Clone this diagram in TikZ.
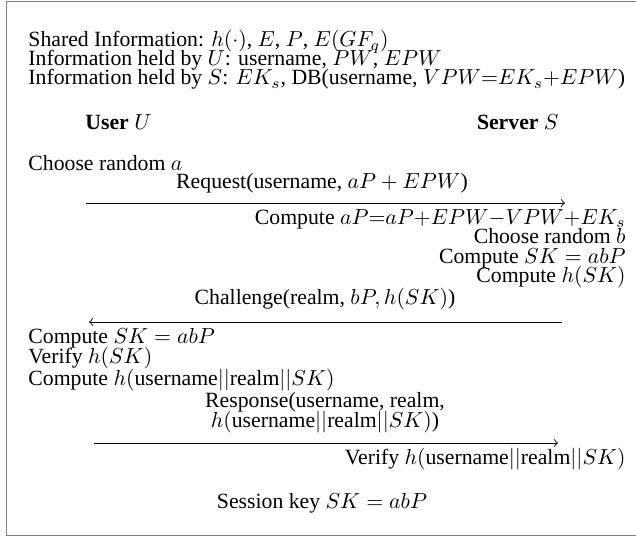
\documentclass[tikz,border=0pt]{standalone}
\usepackage{fontspec}
\setmainfont{Liberation Serif}
\begin{document}
\begin{tikzpicture}[x=0.46pt,y=-0.46pt,
  lt/.style={anchor=base west,inner sep=0pt},
  rt/.style={anchor=base east,inner sep=0pt},
  ct/.style={anchor=base,inner sep=0pt},
  msg/.style={->,line width=0.4pt},
  frame/.style={draw=black!50,line width=0.7pt}]
\useasboundingbox (0,0) rectangle (636,537);
\begin{scope}
\clip (0,0) rectangle (636,537);
\draw[frame] (6.5,1.5) rectangle (645,535.5);
\end{scope}
% header
\node[lt] (i1) at (28,47) {Shared Information: $h(\cdot)$, $E$, $P$, $E(GF_q)$};
\node[lt] (i2) at (28,66) {Information held by $U$: username, $PW$, $EPW$};
\node[lt] (i3) at (28,85) {Information held by $S$: $EK_s$, DB(username, $VPW{=}EK_s{+}EPW$)};
\node[lt] (user) at (85,130) {\textbf{User} $U$};
\node[rt] (server) at (559,130) {\textbf{Server} $S$};
% step 1
\node[lt] (ca) at (28,170) {Choose random $a$};
\node[ct] (req) at (322,188) {Request(username, $aP + EPW$)};
\coordinate (r1s) at (86,203);
\coordinate (r1e) at (565,203);
\draw[msg] (r1s) -- (r1e);
\node[rt] (s1) at (626,224) {Compute $aP{=}aP{+}EPW{-}VPW{+}EK_s$};
\node[rt] (s2) at (626,243) {Choose random $b$};
\node[rt] (s3) at (626,263) {Compute $SK = abP$};
\node[rt] (s4) at (626,282) {Compute $h(SK)$};
% step 2
\node[ct] (chal) at (325,304) {Challenge(realm, $bP, h(SK)$)};
\coordinate (r2s) at (562,322);
\coordinate (r2e) at (89,322);
\draw[msg] (r2s) -- (r2e);
\node[lt] (u1) at (28,343) {Compute $SK = abP$};
\node[lt] (u2) at (28,363) {Verify $h(SK)$};
\node[lt] (u3) at (28,385) {Compute $h(\mbox{username}||\mbox{realm}||SK)$};
% step 3
\node[ct] (resp1) at (325,407) {Response(username, realm,};
\node[ct] (resp2) at (325,427) {$h(\mbox{username}||\mbox{realm}||SK)$)};
\coordinate (r3s) at (94,443);
\coordinate (r3e) at (558,443);
\draw[msg] (r3s) -- (r3e);
\node[rt] (s5) at (626,464) {Verify $h(\mbox{username}||\mbox{realm}||SK)$};
\node[ct] (sk) at (322,508) {Session key $SK = abP$};
\end{tikzpicture}
\end{document}
